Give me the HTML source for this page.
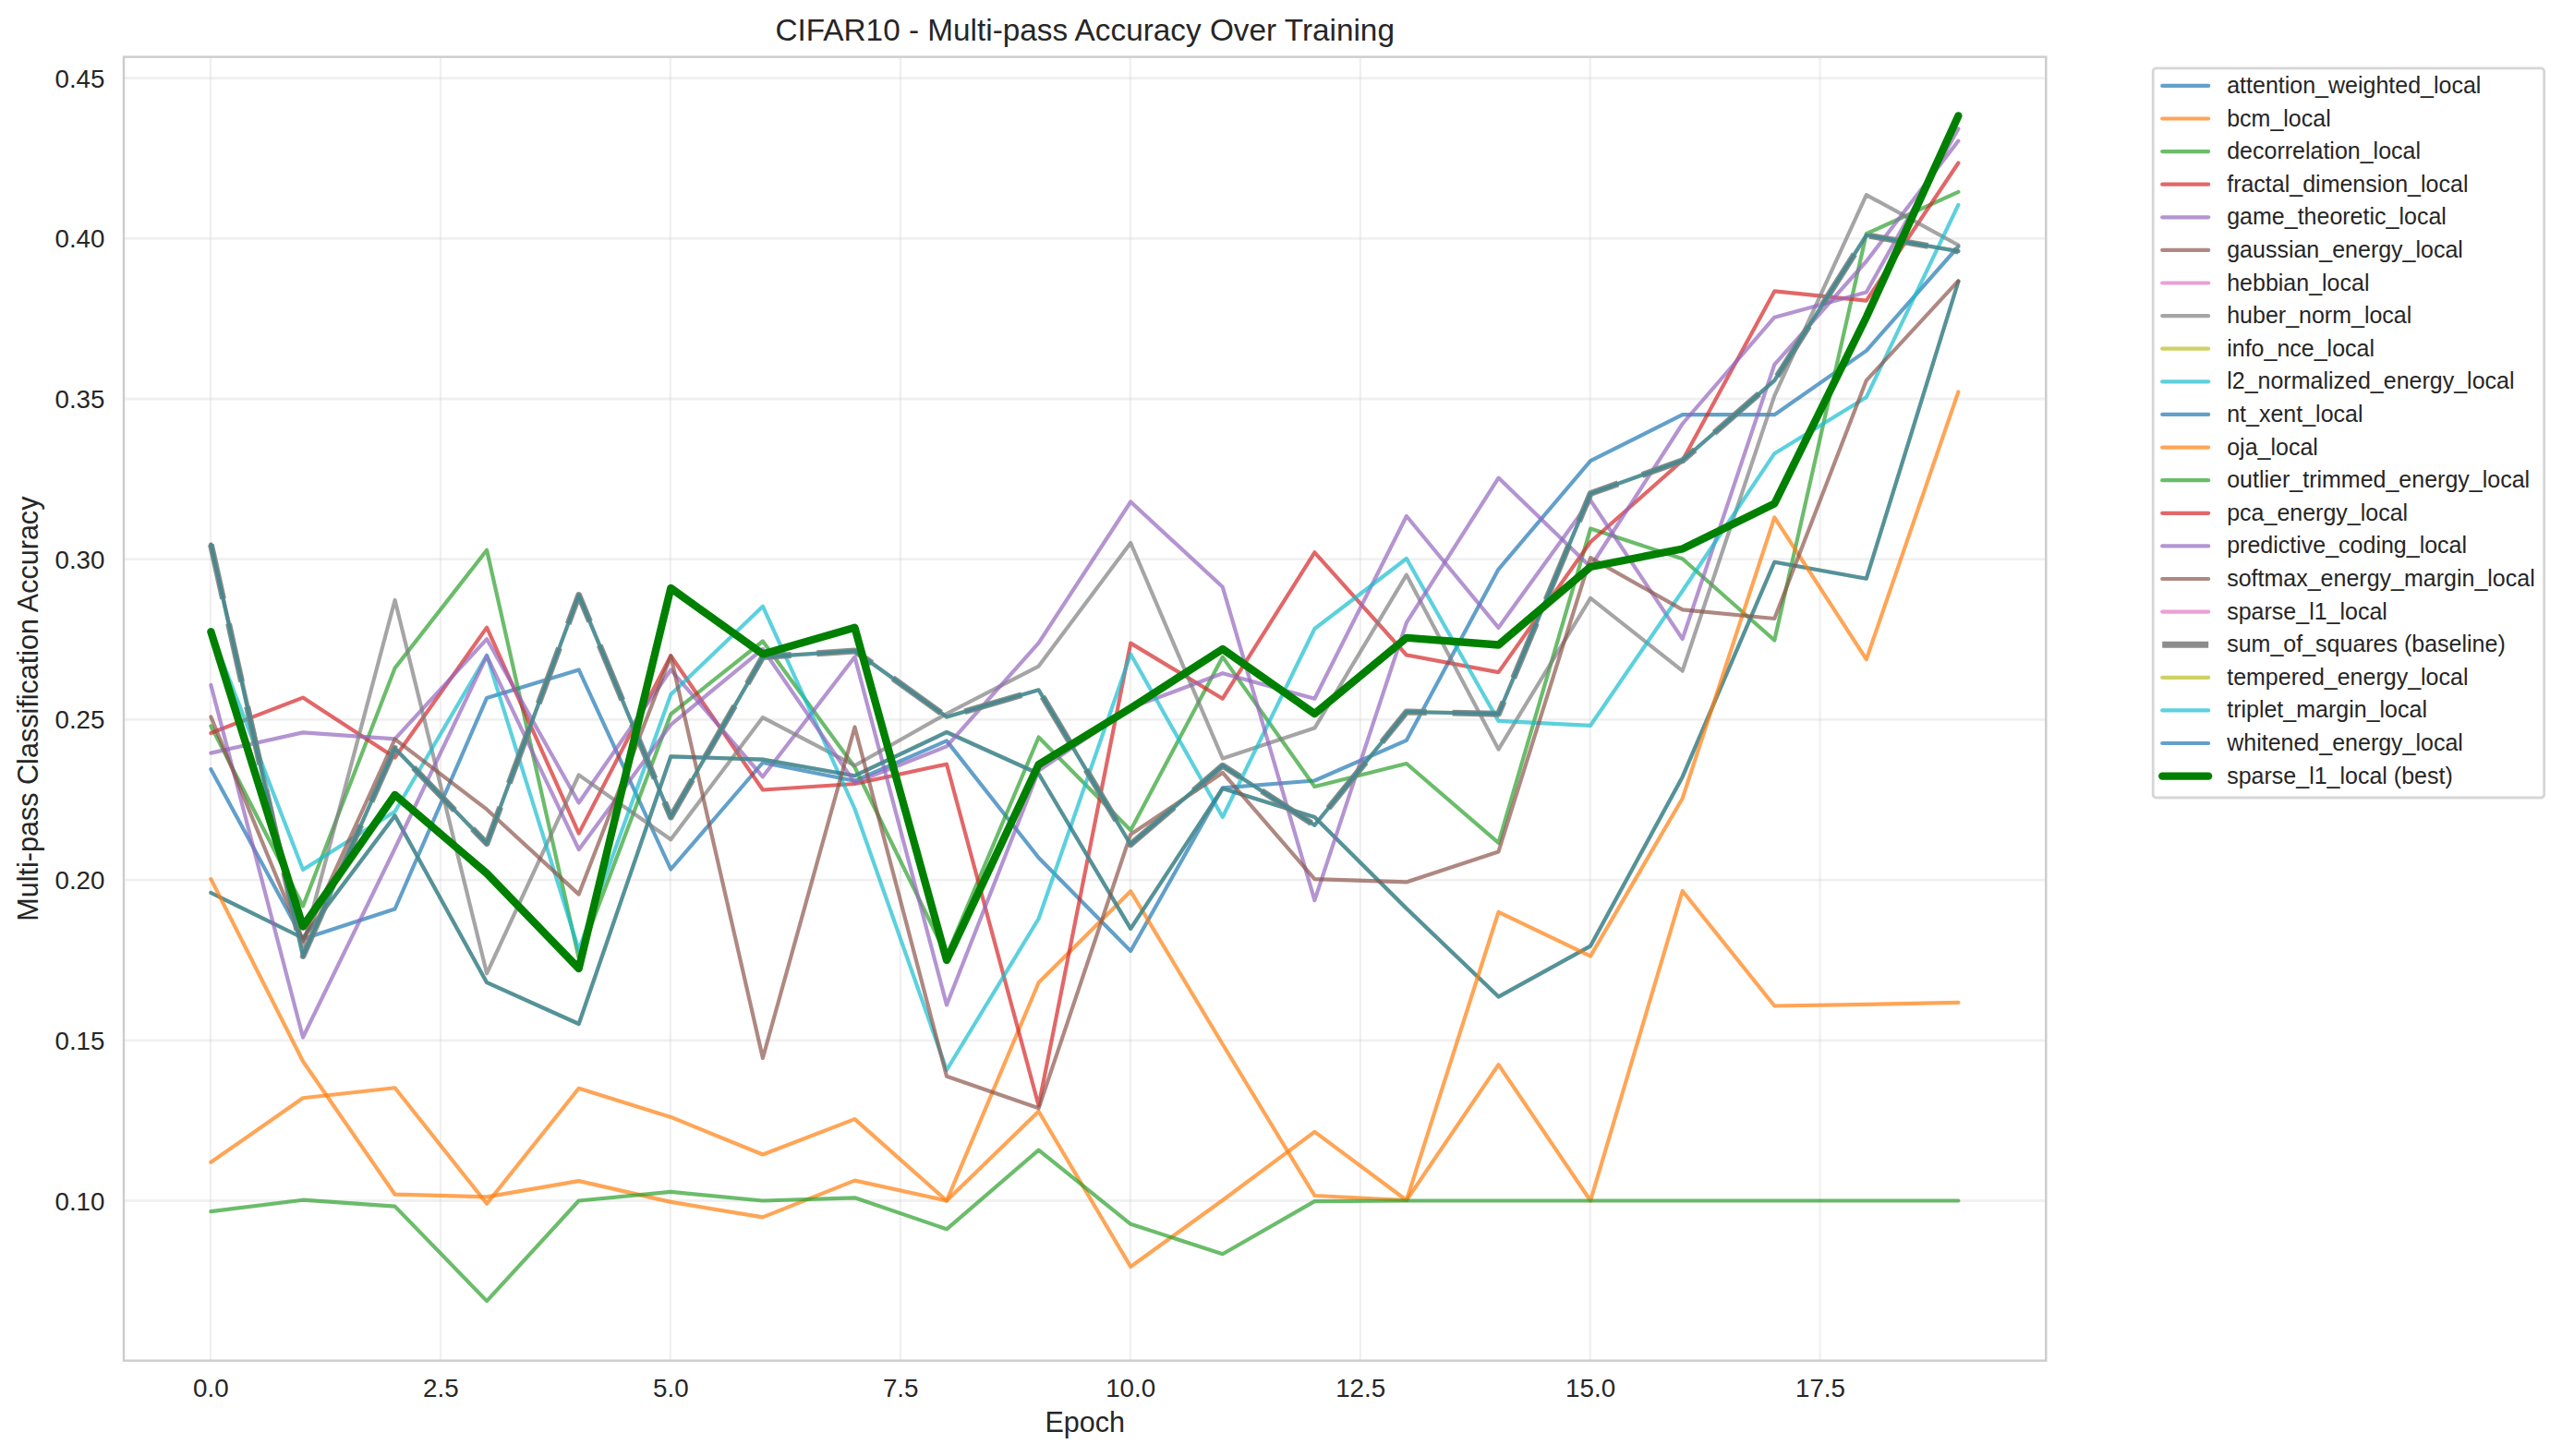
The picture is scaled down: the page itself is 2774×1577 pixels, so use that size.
<!DOCTYPE html>
<html lang="en"><head><meta charset="utf-8"><title>CIFAR10 - Multi-pass Accuracy Over Training</title>
<style>html,body{margin:0;padding:0;background:#fff}svg{display:block}text{font-family:"Liberation Sans",sans-serif;fill:#262626}</style></head><body>
<svg width="2774" height="1577" viewBox="0 0 2774 1577">
<rect x="0" y="0" width="2774" height="1577" fill="#ffffff"/>
<g stroke="#cccccc" stroke-opacity="0.3" stroke-width="2.78" fill="none"><line x1="228.0" y1="61.6" x2="228.0" y2="1473.7" stroke-width="2.3"/><line x1="477.0" y1="61.6" x2="477.0" y2="1473.7" stroke-width="2.3"/><line x1="725.9" y1="61.6" x2="725.9" y2="1473.7" stroke-width="2.3"/><line x1="974.9" y1="61.6" x2="974.9" y2="1473.7" stroke-width="2.3"/><line x1="1223.8" y1="61.6" x2="1223.8" y2="1473.7" stroke-width="2.3"/><line x1="1472.8" y1="61.6" x2="1472.8" y2="1473.7" stroke-width="2.3"/><line x1="1721.7" y1="61.6" x2="1721.7" y2="1473.7" stroke-width="2.3"/><line x1="1970.6" y1="61.6" x2="1970.6" y2="1473.7" stroke-width="2.3"/><line x1="134.0" y1="1300.5" x2="2215.3" y2="1300.5"/><line x1="134.0" y1="1126.8" x2="2215.3" y2="1126.8"/><line x1="134.0" y1="953.1" x2="2215.3" y2="953.1"/><line x1="134.0" y1="779.4" x2="2215.3" y2="779.4"/><line x1="134.0" y1="605.7" x2="2215.3" y2="605.7"/><line x1="134.0" y1="432.0" x2="2215.3" y2="432.0"/><line x1="134.0" y1="258.3" x2="2215.3" y2="258.3"/><line x1="134.0" y1="84.6" x2="2215.3" y2="84.6"/></g>
<defs><clipPath id="ax"><rect x="134.0" y="61.6" width="2081.3" height="1412.1000000000001"/></clipPath></defs>
<g clip-path="url(#ax)">
<polyline points="228.4,833.2 328.0,1017.0 427.6,984.5 527.1,755.9 626.7,725.4 726.3,941.5 825.9,826.0 925.5,845.7 1025.0,802.4 1124.6,929.0 1224.2,1030.1 1323.8,853.4 1423.4,845.5 1522.9,801.8 1622.5,616.6 1722.1,499.1 1821.7,449.2 1921.3,449.2 2020.8,379.9 2120.4,267.0" fill="none" stroke="#1f77b4" stroke-width="4.17" stroke-opacity="0.7" stroke-linecap="round" stroke-linejoin="round"/>
<polyline points="228.4,1258.8 328.0,1189.3 427.6,1178.3 527.1,1303.8 626.7,1178.8 726.3,1209.9 825.9,1250.5 925.5,1212.1 1025.0,1300.5 1124.6,1064.2 1224.2,965.3 1323.8,1131.0 1423.4,1295.0 1522.9,1300.0 1622.5,1153.2 1722.1,1300.5 1821.7,965.0 1921.3,1089.5 2020.8,1087.8 2120.4,1085.9" fill="none" stroke="#ff7f0e" stroke-width="4.17" stroke-opacity="0.7" stroke-linecap="round" stroke-linejoin="round"/>
<polyline points="228.4,786.4 328.0,981.5 427.6,723.6 527.1,595.8 626.7,1037.8 726.3,773.5 825.9,694.5 925.5,831.0 1025.0,1035.0 1124.6,798.5 1224.2,899.3 1323.8,711.6 1423.4,852.0 1522.9,827.0 1622.5,912.8 1722.1,572.6 1821.7,605.2 1921.3,693.5 2020.8,253.2 2120.4,207.8" fill="none" stroke="#2ca02c" stroke-width="4.17" stroke-opacity="0.7" stroke-linecap="round" stroke-linejoin="round"/>
<polyline points="228.4,794.0 328.0,755.6 427.6,820.5 527.1,679.6 626.7,902.6 726.3,710.3 825.9,855.5 925.5,849.0 1025.0,827.7 1124.6,1197.5 1224.2,696.6 1323.8,756.7 1423.4,598.3 1522.9,709.5 1622.5,728.1 1722.1,587.0 1821.7,498.8 1921.3,315.4 2020.8,325.6 2120.4,176.5" fill="none" stroke="#d62728" stroke-width="4.17" stroke-opacity="0.7" stroke-linecap="round" stroke-linejoin="round"/>
<polyline points="228.4,815.6 328.0,793.4 427.6,800.3 527.1,692.2 626.7,869.5 726.3,725.5 825.9,841.3 925.5,711.6 1025.0,1088.4 1124.6,834.7 1224.2,766.6 1323.8,729.2 1423.4,756.7 1522.9,559.0 1622.5,679.8 1722.1,541.8 1821.7,692.1 1921.3,394.8 2020.8,283.0 2120.4,152.6" fill="none" stroke="#9467bd" stroke-width="4.17" stroke-opacity="0.7" stroke-linecap="round" stroke-linejoin="round"/>
<polyline points="228.4,589.7 328.0,1025.0 427.6,650.0 527.1,1054.3 626.7,839.4 726.3,909.2 825.9,777.1 925.5,829.2 1025.0,773.0 1124.6,721.6 1224.2,588.0 1323.8,821.5 1423.4,788.6 1522.9,622.6 1622.5,811.6 1722.1,647.9 1821.7,726.7 1921.3,428.6 2020.8,211.1 2120.4,265.5" fill="none" stroke="#7f7f7f" stroke-width="4.17" stroke-opacity="0.7" stroke-linecap="round" stroke-linejoin="round"/>
<polyline points="228.4,967.0 328.0,1016.0 427.6,883.5 527.1,1064.2 626.7,1109.0 726.3,819.3 825.9,822.6 925.5,840.2 1025.0,793.0 1124.6,838.0 1224.2,1005.9 1323.8,854.0 1423.4,885.0 1522.9,984.0 1622.5,1079.6 1722.1,1024.6 1821.7,841.4 1921.3,608.8 2020.8,626.7 2120.4,305.0" fill="none" stroke="#bcbd22" stroke-width="4.17" stroke-opacity="0.7" stroke-linecap="round" stroke-linejoin="round"/>
<polyline points="228.4,684.2 328.0,942.0 427.6,879.0 527.1,709.8 626.7,1029.0 726.3,752.3 825.9,656.7 925.5,876.0 1025.0,1159.0 1124.6,995.0 1224.2,708.4 1323.8,885.0 1423.4,681.0 1522.9,605.0 1622.5,780.9 1722.1,785.8 1821.7,640.0 1921.3,491.2 2020.8,430.2 2120.4,221.9" fill="none" stroke="#17becf" stroke-width="4.17" stroke-opacity="0.7" stroke-linecap="round" stroke-linejoin="round"/>
<polyline points="228.4,967.0 328.0,1016.0 427.6,883.5 527.1,1064.2 626.7,1109.0 726.3,819.3 825.9,822.6 925.5,840.2 1025.0,793.0 1124.6,838.0 1224.2,1005.9 1323.8,854.0 1423.4,885.0 1522.9,984.0 1622.5,1079.6 1722.1,1024.6 1821.7,841.4 1921.3,608.8 2020.8,626.7 2120.4,305.0" fill="none" stroke="#1f77b4" stroke-width="4.17" stroke-opacity="0.7" stroke-linecap="round" stroke-linejoin="round"/>
<polyline points="228.4,952.1 328.0,1149.5 427.6,1293.7 527.1,1296.4 626.7,1279.1 726.3,1301.9 825.9,1318.4 925.5,1278.6 1025.0,1300.5 1124.6,1203.8 1224.2,1372.0 1323.8,1300.0 1423.4,1225.8 1522.9,1300.0 1622.5,987.8 1722.1,1035.6 1821.7,864.7 1921.3,560.4 2020.8,714.2 2120.4,424.4" fill="none" stroke="#ff7f0e" stroke-width="4.17" stroke-opacity="0.7" stroke-linecap="round" stroke-linejoin="round"/>
<polyline points="228.4,1312.1 328.0,1299.7 427.6,1306.6 527.1,1409.1 626.7,1300.5 726.3,1290.9 825.9,1300.5 925.5,1297.3 1025.0,1331.3 1124.6,1245.6 1224.2,1325.8 1323.8,1358.2 1423.4,1301.1 1522.9,1300.5 1622.5,1300.5 1722.1,1300.5 1821.7,1300.5 1921.3,1300.5 2020.8,1300.5 2120.4,1300.5" fill="none" stroke="#2ca02c" stroke-width="4.17" stroke-opacity="0.7" stroke-linecap="round" stroke-linejoin="round"/>
<polyline points="228.4,742.0 328.0,1123.5 427.6,919.0 527.1,710.5 626.7,920.2 726.3,785.0 825.9,702.9 925.5,847.9 1025.0,808.4 1124.6,696.3 1224.2,543.5 1323.8,635.8 1423.4,975.2 1522.9,674.3 1622.5,517.6 1722.1,614.0 1821.7,459.0 1921.3,343.7 2020.8,316.5 2120.4,139.4" fill="none" stroke="#9467bd" stroke-width="4.17" stroke-opacity="0.7" stroke-linecap="round" stroke-linejoin="round"/>
<polyline points="228.4,776.5 328.0,1019.5 427.6,800.6 527.1,876.7 626.7,968.6 726.3,710.5 825.9,1146.0 925.5,787.5 1025.0,1165.7 1124.6,1200.3 1224.2,903.7 1323.8,836.9 1423.4,952.1 1522.9,955.4 1622.5,922.4 1722.1,604.1 1821.7,660.4 1921.3,670.0 2020.8,412.1 2120.4,304.2" fill="none" stroke="#8c564b" stroke-width="4.17" stroke-opacity="0.7" stroke-linecap="round" stroke-linejoin="round"/>
<polyline points="228.4,589.7 328.0,1035.6 427.6,810.5 527.1,913.6 626.7,644.6 726.3,885.0 825.9,711.6 925.5,705.0 1025.0,776.5 1124.6,747.3 1224.2,914.7 1323.8,829.2 1423.4,893.8 1522.9,771.0 1622.5,773.2 1722.1,534.6 1821.7,498.8 1921.3,412.1 2020.8,254.8 2120.4,272.1" fill="none" stroke="#7f7f7f" stroke-width="6.94" stroke-opacity="0.9" stroke-linecap="butt" stroke-linejoin="round" stroke-dasharray="64.2 27.8" stroke-dashoffset="4"/>
<polyline points="228.4,589.7 328.0,1035.6 427.6,810.5 527.1,913.6 626.7,644.6 726.3,885.0 825.9,711.6 925.5,705.0 1025.0,776.5 1124.6,747.3 1224.2,914.7 1323.8,829.2 1423.4,893.8 1522.9,771.0 1622.5,773.2 1722.1,534.6 1821.7,498.8 1921.3,412.1 2020.8,254.8 2120.4,272.1" fill="none" stroke="#bcbd22" stroke-width="4.17" stroke-opacity="0.7" stroke-linecap="round" stroke-linejoin="round"/>
<polyline points="228.4,589.7 328.0,1035.6 427.6,810.5 527.1,913.6 626.7,644.6 726.3,885.0 825.9,711.6 925.5,705.0 1025.0,776.5 1124.6,747.3 1224.2,914.7 1323.8,829.2 1423.4,893.8 1522.9,771.0 1622.5,773.2 1722.1,534.6 1821.7,498.8 1921.3,412.1 2020.8,254.8 2120.4,272.1" fill="none" stroke="#1f77b4" stroke-width="4.17" stroke-opacity="0.7" stroke-linecap="round" stroke-linejoin="round"/>
<polyline points="228.4,684.2 328.0,1003.5 427.6,860.9 527.1,946.0 626.7,1049.0 726.3,637.0 825.9,708.4 925.5,679.8 1025.0,1040.0 1124.6,828.1 1224.2,767.0 1323.8,703.0 1423.4,773.0 1522.9,690.8 1622.5,698.5 1722.1,614.0 1821.7,594.5 1921.3,545.5 2020.8,343.5 2120.4,125.4" fill="none" stroke="#008000" stroke-width="8.33" stroke-opacity="1" stroke-linecap="round" stroke-linejoin="round"/>
</g>
<rect x="134.0" y="61.6" width="2081.3" height="1412.1" fill="none" stroke="#cccccc" stroke-width="2.4"/>
<g font-size="27.78"><text x="228.4" y="1512.6" text-anchor="middle">0.0</text><text x="477.4" y="1512.6" text-anchor="middle">2.5</text><text x="726.3" y="1512.6" text-anchor="middle">5.0</text><text x="975.2" y="1512.6" text-anchor="middle">7.5</text><text x="1224.2" y="1512.6" text-anchor="middle">10.0</text><text x="1473.2" y="1512.6" text-anchor="middle">12.5</text><text x="1722.1" y="1512.6" text-anchor="middle">15.0</text><text x="1971.0" y="1512.6" text-anchor="middle">17.5</text><text x="113.5" y="1310.5" text-anchor="end">0.10</text><text x="113.5" y="1136.8" text-anchor="end">0.15</text><text x="113.5" y="963.1" text-anchor="end">0.20</text><text x="113.5" y="789.4" text-anchor="end">0.25</text><text x="113.5" y="615.7" text-anchor="end">0.30</text><text x="113.5" y="442.0" text-anchor="end">0.35</text><text x="113.5" y="268.3" text-anchor="end">0.40</text><text x="113.5" y="94.6" text-anchor="end">0.45</text></g>
<text x="1174.7" y="1550.8" font-size="30.56" text-anchor="middle">Epoch</text>
<text transform="translate(40.7,767.6) rotate(-90)" font-size="30.56" text-anchor="middle">Multi-pass Classification Accuracy</text>
<text x="1174.7" y="43.6" font-size="33.33" text-anchor="middle">CIFAR10 - Multi-pass Accuracy Over Training</text>
<rect x="2331.2" y="73.9" width="423.5" height="790.1" rx="3.5" ry="3.5" fill="#ffffff" fill-opacity="0.8" stroke="#cccccc" stroke-opacity="0.8" stroke-width="2.78"/>
<g><line x1="2341.2" y1="92.9" x2="2391.2" y2="92.9" stroke="#1f77b4" stroke-opacity="0.7" stroke-width="4.17" stroke-linecap="round"/><line x1="2341.2" y1="128.5" x2="2391.2" y2="128.5" stroke="#ff7f0e" stroke-opacity="0.7" stroke-width="4.17" stroke-linecap="round"/><line x1="2341.2" y1="164.1" x2="2391.2" y2="164.1" stroke="#2ca02c" stroke-opacity="0.7" stroke-width="4.17" stroke-linecap="round"/><line x1="2341.2" y1="199.7" x2="2391.2" y2="199.7" stroke="#d62728" stroke-opacity="0.7" stroke-width="4.17" stroke-linecap="round"/><line x1="2341.2" y1="235.3" x2="2391.2" y2="235.3" stroke="#9467bd" stroke-opacity="0.7" stroke-width="4.17" stroke-linecap="round"/><line x1="2341.2" y1="270.9" x2="2391.2" y2="270.9" stroke="#8c564b" stroke-opacity="0.7" stroke-width="4.17" stroke-linecap="round"/><line x1="2341.2" y1="306.5" x2="2391.2" y2="306.5" stroke="#e377c2" stroke-opacity="0.7" stroke-width="4.17" stroke-linecap="round"/><line x1="2341.2" y1="342.1" x2="2391.2" y2="342.1" stroke="#7f7f7f" stroke-opacity="0.7" stroke-width="4.17" stroke-linecap="round"/><line x1="2341.2" y1="377.7" x2="2391.2" y2="377.7" stroke="#bcbd22" stroke-opacity="0.7" stroke-width="4.17" stroke-linecap="round"/><line x1="2341.2" y1="413.3" x2="2391.2" y2="413.3" stroke="#17becf" stroke-opacity="0.7" stroke-width="4.17" stroke-linecap="round"/><line x1="2341.2" y1="448.9" x2="2391.2" y2="448.9" stroke="#1f77b4" stroke-opacity="0.7" stroke-width="4.17" stroke-linecap="round"/><line x1="2341.2" y1="484.6" x2="2391.2" y2="484.6" stroke="#ff7f0e" stroke-opacity="0.7" stroke-width="4.17" stroke-linecap="round"/><line x1="2341.2" y1="520.2" x2="2391.2" y2="520.2" stroke="#2ca02c" stroke-opacity="0.7" stroke-width="4.17" stroke-linecap="round"/><line x1="2341.2" y1="555.8" x2="2391.2" y2="555.8" stroke="#d62728" stroke-opacity="0.7" stroke-width="4.17" stroke-linecap="round"/><line x1="2341.2" y1="591.4" x2="2391.2" y2="591.4" stroke="#9467bd" stroke-opacity="0.7" stroke-width="4.17" stroke-linecap="round"/><line x1="2341.2" y1="627.0" x2="2391.2" y2="627.0" stroke="#8c564b" stroke-opacity="0.7" stroke-width="4.17" stroke-linecap="round"/><line x1="2341.2" y1="662.6" x2="2391.2" y2="662.6" stroke="#e377c2" stroke-opacity="0.7" stroke-width="4.17" stroke-linecap="round"/><line x1="2341.2" y1="698.2" x2="2391.2" y2="698.2" stroke="#7f7f7f" stroke-opacity="0.9" stroke-width="6.94" stroke-linecap="butt"/><line x1="2341.2" y1="733.8" x2="2391.2" y2="733.8" stroke="#bcbd22" stroke-opacity="0.7" stroke-width="4.17" stroke-linecap="round"/><line x1="2341.2" y1="769.4" x2="2391.2" y2="769.4" stroke="#17becf" stroke-opacity="0.7" stroke-width="4.17" stroke-linecap="round"/><line x1="2341.2" y1="805.0" x2="2391.2" y2="805.0" stroke="#1f77b4" stroke-opacity="0.7" stroke-width="4.17" stroke-linecap="round"/><line x1="2341.2" y1="840.6" x2="2391.2" y2="840.6" stroke="#008000" stroke-width="8.33" stroke-linecap="round"/></g>
<g font-size="25"><text x="2411.2" y="100.9">attention_weighted_local</text><text x="2411.2" y="136.5">bcm_local</text><text x="2411.2" y="172.1">decorrelation_local</text><text x="2411.2" y="207.7">fractal_dimension_local</text><text x="2411.2" y="243.3">game_theoretic_local</text><text x="2411.2" y="278.9">gaussian_energy_local</text><text x="2411.2" y="314.5">hebbian_local</text><text x="2411.2" y="350.1">huber_norm_local</text><text x="2411.2" y="385.7">info_nce_local</text><text x="2411.2" y="421.3">l2_normalized_energy_local</text><text x="2411.2" y="456.9">nt_xent_local</text><text x="2411.2" y="492.6">oja_local</text><text x="2411.2" y="528.2">outlier_trimmed_energy_local</text><text x="2411.2" y="563.8">pca_energy_local</text><text x="2411.2" y="599.4">predictive_coding_local</text><text x="2411.2" y="635.0">softmax_energy_margin_local</text><text x="2411.2" y="670.6">sparse_l1_local</text><text x="2411.2" y="706.2">sum_of_squares (baseline)</text><text x="2411.2" y="741.8">tempered_energy_local</text><text x="2411.2" y="777.4">triplet_margin_local</text><text x="2411.2" y="813.0">whitened_energy_local</text><text x="2411.2" y="848.6">sparse_l1_local (best)</text></g>
</svg></body></html>
